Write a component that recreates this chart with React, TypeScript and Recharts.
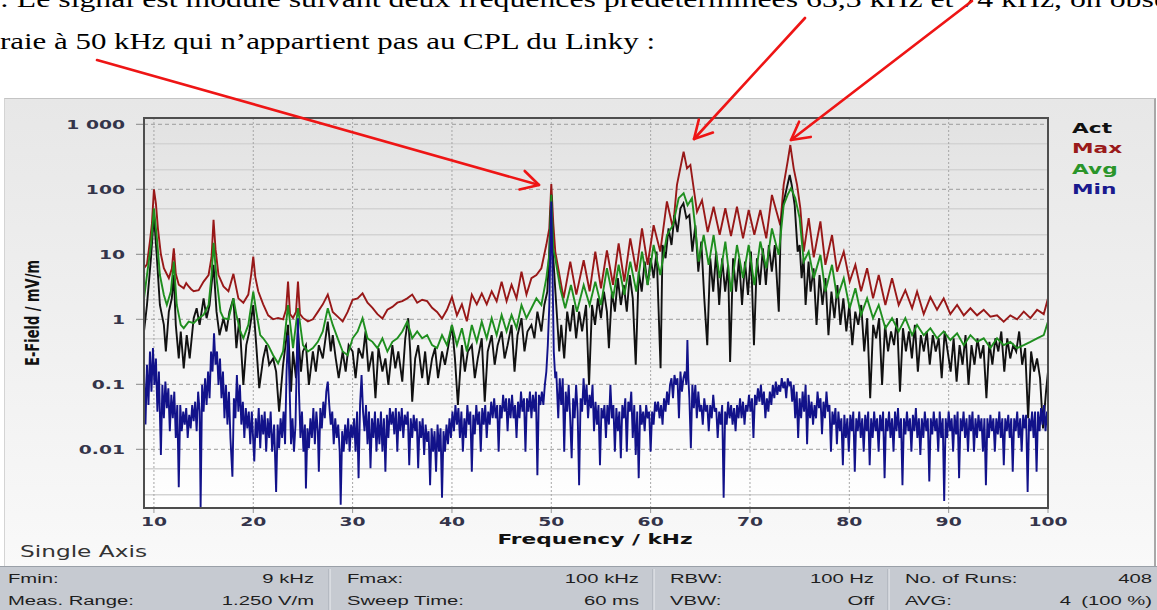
import { LineChart, Line, XAxis, YAxis, CartesianGrid } from 'recharts'

// frequency in kHz, field in mV/m
const FREQ_TICKS = [10, 20, 30, 40, 50, 60, 70, 80, 90, 100]
const FIELD_TICKS = [1000, 100, 10, 1, 0.1, 0.01]
const FIELD_LABELS = ['1 000', '100', '10', '1', '0.1', '0.01']
const FIELD_MINOR = [500, 200, 50, 20, 5, 2, 0.5, 0.2, 0.05, 0.02, 0.005, 0.002]

const MAX: [number, number][] = [
  [9, 6.1], [9.3, 7], [9.6, 16], [9.8, 30], [10, 100], [10.2, 60], [10.4, 25], [10.7, 10], [11, 6.1], [11.5, 4.3], [11.8, 6], [12, 12.4], [12.2, 5], [12.5, 3.4],
  [13, 3.0], [13.25, 3.6], [13.5, 3.2], [13.75, 2.9], [14, 2.7], [14.5, 2.8], [15, 3.8], [15.5, 4.8], [15.8, 9], [16, 34], [16.2, 12], [16.5, 4.8], [17, 3.2],
  [17.5, 2.7], [18, 5.0], [18.5, 2.1], [19, 1.8], [19.5, 2.4], [19.8, 5], [20, 9.2], [20.2, 4.5], [20.5, 2.7], [21, 1.7], [21.5, 1.15], [22, 1.0], [22.5, 1.05],
  [23, 1.0], [23.3, 1.4], [23.5, 3.8], [23.7, 1.2], [24, 1.05], [24.3, 1.3], [24.5, 3.8], [24.7, 1.2], [25, 1.05], [25.5, 0.93], [26, 1.0], [26.5, 1.3], [27, 1.7],
  [27.5, 2.4], [28, 1.3], [28.5, 1.1], [29, 0.93], [29.5, 1.3], [30, 2.0], [30.5, 2.1], [31, 2.5], [31.5, 1.8], [32, 1.5], [32.5, 1.2], [33, 1.03], [33.5, 1.4],
  [34, 1.55], [34.5, 1.8], [35, 1.9], [35.5, 2.1], [36, 2.4], [36.5, 1.8], [37, 2.0], [37.5, 1.9], [38, 1.5], [38.5, 1.3], [39, 1.03], [39.5, 1.4], [40, 2.2],
  [40.5, 1.15], [41, 1.7], [41.5, 0.93], [42, 2.4], [42.5, 1.7], [43, 2.5], [43.5, 1.7], [44, 2.7], [44.5, 1.9], [45, 3.8], [45.5, 1.9], [46, 3.4], [46.5, 2.1],
  [47, 5.4], [47.5, 2.4], [48, 4.3], [48.5, 4.8], [49, 6.1], [49.5, 14], [49.8, 25], [50, 120], [50.2, 30], [50.4, 11], [51.24, 2.1], [51.91, 7.7], [52.52, 2.4],
  [53.26, 8.1], [53.86, 2.7], [54.43, 11], [55.0, 3.0], [55.6, 11.5], [56.21, 3.4], [56.78, 14.7], [57.35, 3.8], [57.95, 17.6], [58.56, 5.4], [59.13, 25],
  [59.7, 6.9], [60.3, 28], [60.97, 11], [61.64, 65], [62.25, 25], [62.65, 117], [63.05, 237], [63.32, 380], [63.66, 210], [64.0, 237], [64.33, 104], [64.67, 45],
  [65.17, 68], [65.74, 22], [66.34, 54], [66.95, 20], [67.52, 51], [68.09, 19], [68.69, 54], [69.3, 17.6], [69.87, 48], [70.44, 20], [71.04, 48], [71.64, 17.6],
  [72.21, 82], [73.05, 28], [73.39, 117], [73.79, 267], [74.06, 480], [74.4, 210], [74.74, 117], [75.07, 51], [75.41, 11], [75.91, 36], [76.42, 9], [77.09, 32],
  [77.59, 6.9], [78.26, 19.8], [78.77, 5.4], [79.44, 11], [80.04, 3.8], [80.61, 6.9], [81.18, 2.7], [81.79, 6.1], [82.39, 2.1], [82.96, 4.8], [83.63, 1.66],
  [84.3, 4.3], [84.97, 1.66], [85.64, 2.8], [86.32, 1.48], [86.82, 2.67], [87.49, 1.2], [88.16, 2.2], [88.83, 1.4], [89.5, 2.1], [90.17, 1.2], [90.85, 1.66],
  [91.52, 1.15], [92.19, 1.48], [92.86, 1.15], [93.53, 1.4], [94.2, 1.1], [94.87, 1.15], [95.54, 0.92], [96.21, 1.15], [96.89, 1.0], [97.56, 1.31], [98.23, 1.04],
  [98.9, 1.4], [99.57, 1.2], [100, 2.1],
]

const AVG: [number, number][] = [
  [9, 2.1], [9.3, 4.8], [9.7, 13.9], [10, 51], [10.3, 17.6], [10.6, 4.8], [11, 2.37], [11.3, 1.66], [11.7, 2.67], [12, 7.7], [12.3, 1.66], [12.7, 0.82], [13, 0.73],
  [13.5, 0.92], [14, 0.87], [14.5, 1.04], [15, 1.17], [15.5, 1.66], [15.8, 4.8], [16, 15], [16.3, 4.3], [16.7, 1.31], [17, 1.04], [17.5, 1.0], [18, 2.1], [18.3, 1.17],
  [18.7, 0.65], [19, 0.51], [19.5, 0.82], [20, 2.67], [20.3, 1.31], [20.7, 0.57], [21, 0.51], [21.5, 0.4], [22, 0.28], [22.5, 0.21], [23, 0.32], [23.5, 1.66],
  [24, 0.36], [24.5, 1.48], [25, 0.4], [25.5, 0.32], [26, 0.36], [26.5, 0.45], [27, 0.65], [27.5, 1.48], [28, 0.82], [28.5, 0.51], [29, 0.32], [29.5, 0.28], [30, 0.51],
  [30.5, 0.65], [31, 1.04], [31.5, 0.51], [32, 0.45], [32.5, 0.36], [33, 0.51], [33.5, 0.32], [34, 0.45], [34.5, 0.51], [35, 0.65], [35.5, 0.92], [36, 0.51],
  [36.5, 0.65], [37, 0.51], [37.5, 0.57], [38, 0.4], [38.5, 0.36], [39, 0.57], [39.5, 0.4], [40, 0.82], [40.5, 0.4], [41, 0.73], [41.5, 0.32], [42, 0.82], [42.5, 0.45],
  [43, 0.92], [43.5, 0.51], [44, 1.04], [44.5, 0.57], [45, 1.17], [45.5, 0.65], [46, 1.17], [46.5, 0.73], [47, 1.66], [47.5, 1.04], [48, 1.48], [48.5, 2.1], [49, 1.66],
  [49.5, 4.3], [49.8, 10], [50, 82], [50.2, 12], [50.4, 8.7], [50.9, 3.0], [51.4, 1.48], [51.98, 3.37], [52.58, 1.31], [53.26, 3.37], [53.86, 1.66], [54.43, 3.8],
  [55.0, 1.66], [55.6, 6.1], [56.21, 2.1], [56.78, 6.9], [57.35, 2.37], [57.95, 7.7], [58.56, 2.67], [59.13, 11], [59.7, 3.37], [60.3, 13.9], [60.97, 4.8], [61.64, 19.8],
  [62.25, 28], [62.82, 73], [63.32, 87], [63.72, 57], [64.16, 73], [64.5, 25], [64.83, 7.7], [65.34, 19.8], [65.84, 6.9], [66.34, 19.8], [66.95, 4.3], [67.52, 15.7],
  [68.09, 2.67], [68.69, 13.9], [69.3, 4.3], [69.87, 13.9], [70.44, 3.37], [71.04, 15.7], [71.64, 6.1], [72.21, 25], [72.89, 9.8], [73.39, 57], [73.79, 82], [74.13, 104],
  [74.56, 73], [75.0, 36], [75.41, 7.7], [75.91, 11], [76.42, 4.3], [77.09, 9.8], [77.59, 2.67], [78.26, 6.9], [78.77, 2.1], [79.44, 4.3], [80.04, 1.48], [80.61, 3.0],
  [81.18, 1.17], [81.79, 2.1], [82.39, 1.04], [82.96, 1.66], [83.63, 0.73], [84.3, 1.04], [84.97, 0.65], [85.64, 1.04], [86.32, 0.57], [86.82, 0.82], [87.49, 0.57],
  [88.16, 0.73], [88.83, 0.51], [89.5, 0.65], [90.17, 0.48], [90.85, 0.61], [91.52, 0.4], [92.19, 0.57], [92.86, 0.45], [93.53, 0.51], [94.2, 0.36], [94.87, 0.51],
  [95.54, 0.4], [96.21, 0.45], [96.89, 0.36], [97.56, 0.4], [98.23, 0.45], [98.9, 0.51], [99.57, 0.57], [100, 0.92],
]

const ACT: [number, number][] = [
  [9.0, 0.65], [9.3, 1.66], [9.7, 8.7], [10.0, 40], [10.3, 8.7], [10.6, 1.66], [11.0, 0.82], [11.2, 0.32], [11.5, 1.31], [11.8, 2.1], [12.0, 4.8], [12.2, 0.82],
  [12.5, 0.25], [12.7, 0.65], [13.0, 0.176], [13.3, 0.57], [13.6, 0.25], [14.0, 1.04], [14.3, 1.48], [14.6, 0.82], [15.0, 2.1], [15.3, 1.04], [15.6, 1.66], [16.0, 6.9],
  [16.3, 1.31], [16.6, 0.57], [17.0, 1.04], [17.3, 0.65], [17.6, 1.31], [18.0, 2.1], [18.3, 0.36], [18.6, 1.04], [19.0, 0.098], [19.3, 0.4], [19.6, 0.65], [20.0, 1.66],
  [20.3, 0.4], [20.6, 0.087], [21.0, 0.25], [21.3, 0.4], [21.6, 0.2], [22.0, 0.25], [22.3, 0.157], [22.6, 0.038], [23.0, 0.2], [23.5, 0.82], [23.8, 0.077], [24.0, 0.32],
  [24.3, 0.124], [24.5, 0.65], [24.8, 0.157], [25.0, 0.32], [25.3, 0.4], [25.6, 0.098], [26.0, 0.32], [26.3, 0.157], [26.6, 0.4], [27.0, 0.25], [27.5, 0.92], [27.8, 0.32],
  [28.0, 0.57], [28.3, 0.25], [28.6, 0.124], [29.0, 0.32], [29.3, 0.157], [29.6, 0.4], [30.0, 0.32], [30.3, 0.124], [30.6, 0.36], [31.0, 0.25], [31.3, 0.65], [31.6, 0.157],
  [32.0, 0.32], [32.3, 0.061], [32.6, 0.36], [33.0, 0.157], [33.3, 0.25], [33.6, 0.098], [34.0, 0.4], [34.3, 0.176], [34.6, 0.32], [35.0, 0.11], [35.3, 0.51], [35.6, 1.04],
  [35.8, 0.32], [36.0, 0.054], [36.3, 0.25], [36.6, 0.4], [37.0, 0.124], [37.3, 0.32], [37.6, 0.098], [38.0, 0.25], [38.3, 0.36], [38.6, 0.124], [39.0, 0.32], [39.3, 0.2],
  [39.6, 0.36], [40.0, 0.82], [40.3, 0.25], [40.6, 0.048], [41.0, 0.4], [41.3, 0.157], [41.6, 0.32], [42.0, 0.4], [42.3, 0.124], [42.6, 0.25], [43.0, 0.51], [43.3, 0.054],
  [43.6, 0.32], [44.0, 0.57], [44.3, 0.2], [44.6, 0.4], [45.0, 0.65], [45.3, 0.25], [45.6, 0.4], [46.0, 0.82], [46.3, 0.157], [46.6, 0.57], [47.0, 1.04], [47.3, 0.32],
  [47.6, 0.65], [48.0, 0.82], [48.3, 0.51], [48.6, 1.31], [49.0, 0.65], [49.3, 1.66], [49.6, 2.67], [49.8, 11], [50.0, 82], [50.2, 8.7], [50.5, 1.66], [50.8, 0.32],
  [51.0, 0.82], [51.3, 0.25], [51.6, 1.31], [51.9, 0.65], [52.2, 1.66], [52.5, 0.51], [52.8, 1.31], [53.1, 0.65], [53.5, 1.66], [53.8, 0.098], [54.1, 1.66], [54.4, 0.82],
  [54.7, 2.1], [55.0, 1.04], [55.3, 2.67], [55.6, 1.31], [55.8, 0.36], [56.1, 2.67], [56.4, 1.31], [56.7, 4.3], [57.0, 1.66], [57.3, 3.37], [57.6, 1.31], [57.9, 4.8],
  [58.2, 2.1], [58.5, 0.2], [58.8, 5.4], [59.1, 2.67], [59.4, 7.7], [59.7, 3.37], [60.0, 8.7], [60.3, 4.3], [60.6, 11], [61.0, 0.176], [61.2, 13.9], [61.5, 8.7],
  [61.8, 25], [62.1, 13.9], [62.4, 40], [62.7, 22], [63.0, 51], [63.3, 61], [63.6, 36], [63.9, 40], [64.2, 11], [64.5, 28], [64.8, 5.4], [65.1, 15.7], [65.4, 2.1],
  [65.7, 0.4], [66.0, 8.7], [66.3, 2.67], [66.6, 11], [66.9, 1.66], [67.2, 8.7], [67.5, 2.67], [67.8, 6.9], [68.0, 0.22], [68.3, 8.7], [68.6, 2.67], [68.9, 8.7],
  [69.2, 1.66], [69.5, 7.7], [69.8, 2.37], [70.1, 11], [70.4, 0.4], [70.7, 8.7], [71.0, 3.37], [71.3, 12.4], [71.6, 3.37], [71.9, 13.9], [72.2, 5.4], [72.5, 13.9],
  [72.9, 1.31], [73.1, 28], [73.4, 65], [73.7, 104], [74.0, 166], [74.2, 117], [74.5, 57], [74.8, 11], [75.0, 13.9], [75.2, 4.3], [75.4, 8.7], [75.6, 1.66], [75.9, 7.7],
  [76.1, 2.67], [76.4, 6.1], [76.7, 0.82], [77.0, 4.8], [77.3, 1.66], [77.6, 4.3], [77.9, 0.57], [78.2, 2.67], [78.5, 1.04], [78.8, 3.37], [79.1, 0.82], [79.4, 2.1],
  [79.7, 0.65], [80.0, 1.66], [80.3, 0.4], [80.6, 1.31], [80.9, 0.82], [81.2, 1.66], [81.5, 0.32], [81.8, 1.04], [82.1, 0.061], [82.4, 0.82], [82.7, 0.51], [83.0, 1.04],
  [83.3, 0.098], [83.6, 0.82], [83.9, 0.32], [84.2, 0.65], [84.5, 0.4], [84.8, 1.04], [85.1, 0.077], [85.4, 0.73], [85.7, 0.32], [86.0, 0.65], [86.3, 0.25], [86.6, 0.82],
  [86.9, 0.157], [87.2, 0.57], [87.5, 0.32], [87.8, 0.65], [88.1, 0.2], [88.4, 0.57], [88.7, 0.32], [89.0, 0.51], [89.3, 0.124], [89.6, 0.65], [89.9, 0.32], [90.2, 0.157],
  [90.5, 0.51], [90.8, 0.11], [91.1, 0.4], [91.4, 0.2], [91.7, 0.57], [92.0, 0.098], [92.3, 0.4], [92.6, 0.2], [92.9, 0.51], [93.2, 0.25], [93.5, 0.4], [93.8, 0.061],
  [94.1, 0.45], [94.4, 0.2], [94.7, 0.51], [95.0, 0.32], [95.3, 0.65], [95.6, 0.157], [95.9, 0.51], [96.2, 0.25], [96.5, 0.4], [96.8, 0.32], [97.1, 0.65], [97.4, 0.2],
  [97.7, 0.36], [98.0, 0.03], [98.3, 0.32], [98.6, 0.157], [98.9, 0.25], [99.2, 0.124], [99.5, 0.021], [99.8, 0.077], [100, 0.157],
]

const MIN: [number, number][] = [
  [9.0, 0.157], [9.15, 0.024], [9.3, 0.2], [9.45, 0.048], [9.6, 0.32], [9.75, 0.077], [9.9, 0.36], [10.05, 0.098], [10.2, 0.25], [10.35, 0.038], [10.5, 0.157],
  [10.7, 0.0082], [10.85, 0.098], [11.0, 0.03], [11.15, 0.11], [11.3, 0.043], [11.45, 0.087], [11.6, 0.019], [11.75, 0.069], [11.9, 0.03], [12.05, 0.077], [12.2, 0.015],
  [12.35, 0.048], [12.5, 0.0026], [12.65, 0.048], [12.8, 0.019], [12.95, 0.038], [13.1, 0.024], [13.25, 0.043], [13.4, 0.015], [13.55, 0.034], [13.7, 0.021],
  [13.85, 0.048], [14.0, 0.027], [14.15, 0.054], [14.3, 0.019], [14.45, 0.077], [14.6, 0.038], [14.7, 0.0013], [14.85, 0.098], [15.0, 0.038], [15.15, 0.124],
  [15.3, 0.048], [15.45, 0.157], [15.6, 0.061], [15.75, 0.32], [15.9, 0.157], [16.05, 0.61], [16.2, 0.2], [16.35, 0.32], [16.5, 0.098], [16.65, 0.25], [16.8, 0.061],
  [16.95, 0.157], [17.1, 0.03], [17.25, 0.098], [17.4, 0.024], [17.55, 0.077], [17.7, 0.015], [17.9, 0.0038], [18.05, 0.061], [18.2, 0.03], [18.35, 0.139], [18.5, 0.038],
  [18.65, 0.098], [18.8, 0.024], [18.95, 0.054], [19.1, 0.015], [19.25, 0.043], [19.4, 0.021], [19.55, 0.038], [19.7, 0.012], [19.85, 0.038], [20.1, 0.0065], [20.25, 0.03],
  [20.4, 0.015], [20.55, 0.043], [20.7, 0.0104], [20.85, 0.034], [21.0, 0.017], [21.15, 0.038], [21.3, 0.0092], [21.45, 0.03], [21.6, 0.015], [21.75, 0.038], [21.9, 0.0092],
  [22.1, 0.024], [22.3, 0.0022], [22.45, 0.024], [22.6, 0.0104], [22.75, 0.03], [22.9, 0.015], [23.05, 0.038], [23.2, 0.012], [23.35, 0.157], [23.5, 0.57], [23.65, 0.098],
  [23.8, 0.012], [23.95, 0.03], [24.1, 0.0092], [24.25, 0.024], [24.4, 0.32], [24.5, 1.04], [24.6, 0.077], [24.75, 0.015], [24.9, 0.038], [25.05, 0.0092], [25.2, 0.024],
  [25.3, 0.0025], [25.45, 0.021], [25.6, 0.0104], [25.75, 0.03], [25.9, 0.015], [26.05, 0.043], [26.2, 0.012], [26.35, 0.038], [26.5, 0.019], [26.6, 0.0045], [26.75, 0.043],
  [26.9, 0.021], [27.05, 0.054], [27.2, 0.03], [27.35, 0.077], [27.5, 0.11], [27.65, 0.048], [27.8, 0.024], [27.95, 0.038], [28.1, 0.012], [28.25, 0.03], [28.4, 0.015],
  [28.55, 0.024], [28.7, 0.0092], [28.8, 0.0014], [28.95, 0.019], [29.1, 0.0092], [29.25, 0.024], [29.4, 0.012], [29.55, 0.03], [29.7, 0.0092], [29.85, 0.024], [30.0, 0.015],
  [30.15, 0.03], [30.3, 0.0092], [30.45, 0.038], [30.6, 0.0036], [30.75, 0.048], [30.9, 0.139], [31.05, 0.038], [31.2, 0.019], [31.35, 0.048], [31.5, 0.012], [31.65, 0.038],
  [31.8, 0.0051], [31.95, 0.03], [32.1, 0.015], [32.25, 0.038], [32.4, 0.0092], [32.55, 0.03], [32.7, 0.012], [32.85, 0.038], [33.0, 0.0092], [33.15, 0.03], [33.3, 0.0045],
  [33.45, 0.034], [33.6, 0.015], [33.75, 0.043], [33.9, 0.024], [34.05, 0.038], [34.2, 0.017], [34.35, 0.043], [34.5, 0.0092], [34.65, 0.038], [34.8, 0.019], [34.95, 0.043],
  [35.1, 0.015], [35.25, 0.034], [35.4, 0.024], [35.55, 0.038], [35.7, 0.0057], [35.85, 0.03], [36.0, 0.015], [36.15, 0.034], [36.3, 0.019], [36.45, 0.03], [36.6, 0.0051],
  [36.75, 0.027], [36.9, 0.015], [37.05, 0.03], [37.2, 0.0082], [37.35, 0.024], [37.5, 0.013], [37.65, 0.019], [37.8, 0.0028], [37.95, 0.021], [38.1, 0.0092], [38.25, 0.019],
  [38.4, 0.0045], [38.55, 0.024], [38.7, 0.0092], [38.85, 0.021], [39.0, 0.0018], [39.15, 0.019], [39.3, 0.0092], [39.45, 0.024], [39.6, 0.012], [39.75, 0.03], [39.9, 0.015],
  [40.05, 0.038], [40.2, 0.019], [40.35, 0.048], [40.5, 0.024], [40.65, 0.043], [40.8, 0.015], [40.95, 0.038], [41.1, 0.0092], [41.25, 0.03], [41.4, 0.015], [41.55, 0.048],
  [41.7, 0.024], [41.85, 0.038], [42.0, 0.0045], [42.15, 0.034], [42.3, 0.017], [42.45, 0.048], [42.6, 0.024], [42.75, 0.038], [42.9, 0.0092], [43.05, 0.043], [43.2, 0.024],
  [43.35, 0.048], [43.5, 0.015], [43.65, 0.038], [43.8, 0.024], [43.95, 0.054], [44.1, 0.03], [44.25, 0.061], [44.4, 0.03], [44.55, 0.048], [44.7, 0.0092], [44.85, 0.048],
  [45.0, 0.03], [45.15, 0.069], [45.3, 0.038], [45.45, 0.061], [45.6, 0.019], [45.75, 0.061], [45.9, 0.03], [46.05, 0.069], [46.2, 0.03], [46.35, 0.048], [46.5, 0.015],
  [46.65, 0.054], [46.8, 0.03], [46.95, 0.077], [47.1, 0.038], [47.25, 0.061], [47.4, 0.0092], [47.55, 0.061], [47.7, 0.038], [47.85, 0.077], [48.0, 0.03], [48.15, 0.069],
  [48.3, 0.038], [48.45, 0.077], [48.6, 0.004], [48.75, 0.069], [48.9, 0.048], [49.05, 0.077], [49.2, 0.048], [49.35, 0.098], [49.5, 0.157], [49.65, 0.4], [49.8, 1.66],
  [49.9, 11], [50.0, 65], [50.1, 8.7], [50.25, 0.32], [50.4, 0.124], [50.5, 0.157], [50.7, 0.03], [50.85, 0.124], [51.0, 0.048], [51.15, 0.124], [51.3, 0.0092],
  [51.45, 0.077], [51.6, 0.038], [51.75, 0.098], [51.9, 0.03], [52.05, 0.0073], [52.2, 0.061], [52.35, 0.03], [52.5, 0.098], [52.65, 0.038], [52.8, 0.0028], [52.95, 0.061],
  [53.1, 0.038], [53.25, 0.124], [53.4, 0.048], [53.55, 0.098], [53.7, 0.03], [53.85, 0.069], [54.0, 0.043], [54.15, 0.098], [54.3, 0.019], [54.45, 0.054], [54.6, 0.024],
  [54.75, 0.048], [54.9, 0.0057], [55.05, 0.043], [55.2, 0.03], [55.35, 0.048], [55.5, 0.015], [55.65, 0.048], [55.8, 0.024], [55.95, 0.098], [56.1, 0.03], [56.25, 0.048],
  [56.4, 0.0092], [56.55, 0.043], [56.7, 0.019], [56.85, 0.038], [57.0, 0.0073], [57.15, 0.048], [57.3, 0.03], [57.45, 0.061], [57.6, 0.0092], [57.75, 0.054], [57.9, 0.038],
  [58.05, 0.077], [58.2, 0.015], [58.35, 0.048], [58.5, 0.0082], [58.65, 0.038], [58.8, 0.0036], [58.95, 0.048], [59.1, 0.024], [59.25, 0.038], [59.4, 0.019], [59.55, 0.048],
  [59.7, 0.03], [59.85, 0.038], [60.0, 0.0092], [60.15, 0.038], [60.3, 0.024], [60.45, 0.054], [60.6, 0.038], [60.75, 0.054], [60.9, 0.03], [61.05, 0.048], [61.2, 0.024],
  [61.35, 0.061], [61.5, 0.038], [61.65, 0.077], [61.8, 0.048], [61.95, 0.098], [62.1, 0.124], [62.25, 0.061], [62.4, 0.139], [62.55, 0.098], [62.7, 0.124], [62.85, 0.03],
  [63.0, 0.157], [63.15, 0.077], [63.3, 0.124], [63.45, 0.157], [63.6, 0.098], [63.7, 0.48], [63.8, 0.124], [63.9, 0.061], [64.05, 0.0104], [64.2, 0.098], [64.35, 0.043],
  [64.5, 0.098], [64.65, 0.03], [64.8, 0.077], [64.95, 0.038], [65.1, 0.048], [65.25, 0.024], [65.4, 0.061], [65.55, 0.038], [65.7, 0.048], [65.85, 0.019], [66.0, 0.048],
  [66.15, 0.03], [66.3, 0.069], [66.45, 0.038], [66.6, 0.043], [66.75, 0.015], [66.9, 0.038], [67.05, 0.024], [67.2, 0.048], [67.35, 0.0018], [67.5, 0.038], [67.65, 0.024],
  [67.8, 0.054], [67.95, 0.03], [68.1, 0.048], [68.25, 0.024], [68.4, 0.043], [68.55, 0.019], [68.7, 0.048], [68.85, 0.03], [69.0, 0.061], [69.15, 0.03], [69.3, 0.054],
  [69.45, 0.024], [69.6, 0.048], [69.75, 0.038], [69.9, 0.069], [70.05, 0.038], [70.2, 0.061], [70.35, 0.015], [70.5, 0.069], [70.65, 0.048], [70.8, 0.087], [70.95, 0.054],
  [71.1, 0.098], [71.25, 0.048], [71.4, 0.077], [71.55, 0.03], [71.7, 0.061], [71.85, 0.038], [72.0, 0.077], [72.15, 0.048], [72.3, 0.098], [72.45, 0.061], [72.6, 0.11],
  [72.75, 0.069], [72.9, 0.098], [73.05, 0.077], [73.2, 0.124], [73.35, 0.087], [73.5, 0.11], [73.65, 0.061], [73.8, 0.124], [73.95, 0.098], [74.1, 0.11], [74.25, 0.054],
  [74.4, 0.098], [74.55, 0.03], [74.7, 0.077], [74.85, 0.015], [75.0, 0.061], [75.15, 0.03], [75.3, 0.077], [75.45, 0.038], [75.6, 0.098], [75.75, 0.012], [75.9, 0.069],
  [76.05, 0.03], [76.2, 0.054], [76.35, 0.024], [76.5, 0.048], [76.65, 0.03], [76.8, 0.077], [76.95, 0.043], [77.1, 0.061], [77.25, 0.017], [77.4, 0.054], [77.55, 0.03],
  [77.7, 0.077], [77.85, 0.038], [78.0, 0.048], [78.15, 0.0092], [78.3, 0.038], [78.45, 0.024], [78.6, 0.043], [78.75, 0.012], [78.9, 0.038], [79.05, 0.019], [79.2, 0.03],
  [79.35, 0.0057], [79.5, 0.034], [79.65, 0.015], [79.8, 0.03], [79.95, 0.0092], [80.1, 0.034], [80.25, 0.019], [80.4, 0.038], [80.55, 0.0045], [80.7, 0.03], [80.85, 0.019],
  [81.0, 0.038], [81.15, 0.015], [81.3, 0.03], [81.45, 0.0092], [81.6, 0.034], [81.75, 0.019], [81.9, 0.038], [82.05, 0.0057], [82.2, 0.03], [82.35, 0.015], [82.5, 0.038],
  [82.65, 0.019], [82.8, 0.03], [82.95, 0.0092], [83.1, 0.034], [83.25, 0.019], [83.4, 0.038], [83.55, 0.0036], [83.7, 0.03], [83.85, 0.019], [84.0, 0.038], [84.15, 0.015],
  [84.3, 0.03], [84.45, 0.0092], [84.6, 0.038], [84.75, 0.019], [84.9, 0.043], [85.05, 0.015], [85.2, 0.03], [85.35, 0.0028], [85.5, 0.03], [85.65, 0.017], [85.8, 0.038],
  [85.95, 0.019], [86.1, 0.03], [86.25, 0.0092], [86.4, 0.034], [86.55, 0.019], [86.7, 0.043], [86.85, 0.015], [87.0, 0.03], [87.15, 0.0082], [87.3, 0.03], [87.45, 0.015],
  [87.6, 0.038], [87.75, 0.019], [87.9, 0.03], [88.05, 0.0032], [88.2, 0.03], [88.35, 0.017], [88.5, 0.038], [88.65, 0.019], [88.8, 0.03], [88.95, 0.0092], [89.1, 0.038],
  [89.25, 0.015], [89.4, 0.03], [89.55, 0.0016], [89.7, 0.03], [89.85, 0.015], [90.0, 0.038], [90.15, 0.019], [90.3, 0.03], [90.45, 0.0092], [90.6, 0.034], [90.75, 0.017],
  [90.9, 0.038], [91.05, 0.0036], [91.2, 0.03], [91.35, 0.019], [91.5, 0.038], [91.65, 0.015], [91.8, 0.03], [91.95, 0.0092], [92.1, 0.034], [92.25, 0.019], [92.4, 0.038],
  [92.55, 0.0092], [92.7, 0.03], [92.85, 0.015], [93.0, 0.034], [93.15, 0.019], [93.3, 0.03], [93.45, 0.0092], [93.6, 0.03], [93.75, 0.0028], [93.9, 0.03], [94.05, 0.015],
  [94.2, 0.034], [94.35, 0.019], [94.5, 0.03], [94.65, 0.0092], [94.8, 0.03], [94.95, 0.017], [95.1, 0.038], [95.25, 0.015], [95.4, 0.03], [95.55, 0.0057], [95.7, 0.03],
  [95.85, 0.019], [96.0, 0.034], [96.15, 0.015], [96.3, 0.03], [96.45, 0.0045], [96.6, 0.03], [96.75, 0.019], [96.9, 0.038], [97.05, 0.015], [97.2, 0.03], [97.35, 0.0092],
  [97.5, 0.034], [97.65, 0.021], [97.8, 0.034], [97.95, 0.0022], [98.1, 0.03], [98.25, 0.019], [98.4, 0.038], [98.55, 0.015], [98.7, 0.038], [98.85, 0.0045], [99.0, 0.038],
  [99.15, 0.019], [99.3, 0.043], [99.45, 0.024], [99.6, 0.048], [99.75, 0.019], [99.9, 0.038], [100, 0.03],
]

const SERIES = [
  { name: 'Max', pts: MAX, color: '#981818' },
  { name: 'Act', pts: ACT, color: '#111111' },
  { name: 'Avg', pts: AVG, color: '#1f8f1f' },
  { name: 'Min', pts: MIN, color: '#12128a' },
]
const LEGEND = [
  { name: 'Act', color: '#111111' },
  { name: 'Max', color: '#9a1a1a' },
  { name: 'Avg', color: '#2a952a' },
  { name: 'Min', color: '#1a1a8e' },
]

const STATUS = [
  [['Fmin:', '9 kHz'], ['Fmax:', '100 kHz'], ['RBW:', '100 Hz'], ['No. of Runs:', '408']],
  [['Meas. Range:', '1.250 V/m'], ['Sweep Time:', '60 ms'], ['VBW:', 'Off'], ['AVG:', '(100 %)']],
]

const TEXT_LINE_1 = ': Le signal est modulé suivant deux fréquences prédéterminées 63,3 kHz et 74 kHz, on obse'
const TEXT_LINE_2 = 'raie à 50 kHz qui n’appartient pas au CPL du Linky :'

const SX = 1.5
const AXIS_FONT = 'DejaVu Sans'
const rows = (pts: [number, number][]) => pts.map(([f, v]) => ({ f, v }))

function Txt({ x, y, children, size, weight = 'normal', fill = '#222', anchor = 'start', sx = SX, family = AXIS_FONT, rotate }: any) {
  const tf = `translate(${x},${y}) scale(${sx},1)` + (rotate ? ` rotate(${rotate})` : '')
  return (
    <text transform={tf} fontSize={size} fontWeight={weight} fill={fill} textAnchor={anchor} fontFamily={family}>
      {children}
    </text>
  )
}

function YTick({ x, y, payload }: any) {
  const i = FIELD_TICKS.indexOf(payload.value)
  if (i < 0) return null
  return (
    <Txt x={x} y={y + 4.5} size={12.5} weight="bold" fill="#34344a" anchor="end">
      {FIELD_LABELS[i]}
    </Txt>
  )
}

function XTick({ x, y, payload }: any) {
  return (
    <Txt x={x} y={y + 10} size={12.5} weight="bold" fill="#34344a" anchor="middle">
      {payload.value}
    </Txt>
  )
}

function Arrow({ x1, y1, x2, y2 }: any) {
  const a = Math.atan2(y2 - y1, x2 - x1)
  const L = 20
  const p1 = [x2 - L * Math.cos(a - 0.5), y2 - L * Math.sin(a - 0.5)]
  const p2 = [x2 - L * Math.cos(a + 0.5), y2 - L * Math.sin(a + 0.5)]
  return (
    <g stroke="#ee1515" strokeWidth={2.6} fill="none" strokeLinecap="round" strokeLinejoin="round">
      <line x1={x1} y1={y1} x2={x2} y2={y2} />
      <polyline points={`${p1[0]},${p1[1]} ${x2},${y2} ${p2[0]},${p2[1]}`} />
    </g>
  )
}

const STATUS_COLS = [
  { lx: 8, rx: 314 },
  { lx: 347, rx: 639 },
  { lx: 670, rx: 874 },
  { lx: 905, rx: 1152 },
]

export default function App() {
  return (
    <div style={{ position: 'absolute', left: 0, top: 0, width: 1157, height: 610, overflow: 'hidden', background: '#fff' }}>
      {/* instrument panel */}
      <div
        style={{
          position: 'absolute', left: 4, top: 98, width: 1149, height: 468,
          background: 'linear-gradient(#e7e7e7, #f9f9f9)', borderTop: '1px solid #c4c4c4', borderLeft: '1px solid #d4d4d4', borderRight: '2px solid #a8a8a8',
        }}
      />
      {/* plot background */}
      <div style={{ position: 'absolute', left: 144, top: 118, width: 904, height: 390, background: 'linear-gradient(#e2e2e2, #ffffff)' }} />

      <div style={{ position: 'absolute', left: 0, top: 0 }}>
        <LineChart width={1157} height={566} margin={{ top: 118, right: 109, bottom: 18, left: 44 }}>
          <CartesianGrid vertical={false} horizontalValues={FIELD_MINOR} stroke="#d3d3d3" strokeWidth={1.5} />
          <CartesianGrid vertical={false} stroke="#9d9d9d" strokeDasharray="4 3" />
          <CartesianGrid horizontal={false} stroke="#a6a6a6" strokeDasharray="2 2" />
          <XAxis
            type="number" dataKey="f" domain={[9, 100]} ticks={FREQ_TICKS} interval={0} allowDataOverflow
            axisLine={false} tickLine={{ stroke: '#999' }} tickSize={5} tickMargin={3} height={40} tick={<XTick />}
          />
          <YAxis
            type="number" scale="log" domain={[0.00125, 1250]} ticks={FIELD_TICKS} interval={0} allowDataOverflow
            axisLine={false} tickLine={{ stroke: '#888' }} tickSize={8} tickMargin={11} width={100} tick={<YTick />}
          />
          {SERIES.map((s) => (
            <Line
              key={s.name} data={rows(s.pts)} dataKey="v" name={s.name} type="linear"
              stroke={s.color} strokeWidth={1.9} dot={false} activeDot={false} isAnimationActive={false}
            />
          ))}
        </LineChart>
      </div>

      {/* status bar */}
      <div style={{ position: 'absolute', left: 0, top: 566, width: 1157, height: 44, background: '#c6cad1', borderTop: '1px solid #9aa0a8' }} />

      <svg width={1157} height={610} style={{ position: 'absolute', left: 0, top: 0, pointerEvents: 'none' }}>
        {/* plot frame */}
        <rect x={144} y={118} width={904} height={390} fill="none" stroke="#4e4e4e" strokeWidth={2} />

        <Txt x={595} y={544} size={14} weight="bold" fill="#111" anchor="middle" sx={1.55}>Frequency / kHz</Txt>
        <Txt x={39} y={313} size={13} weight="bold" fill="#111" anchor="middle" rotate={-90}>E-Field / mV/m</Txt>
        <Txt x={20} y={557} size={15} fill="#333" sx={1.55}>Single Axis</Txt>

        {LEGEND.map((l, i) => (
          <Txt key={l.name} x={1072} y={133 + i * 20.3} size={14} weight="bold" fill={l.color} sx={1.55}>{l.name}</Txt>
        ))}

        {/* status bar texts */}
        {STATUS.map((row, r) =>
          row.map(([label, value], c) => (
            <g key={`${r}-${c}`}>
              <Txt x={STATUS_COLS[c].lx} y={583 + r * 22} size={13.5} family="Liberation Sans" fill="#1e1e1e">{label}</Txt>
              <Txt x={STATUS_COLS[c].rx} y={583 + r * 22} size={13.5} family="Liberation Sans" fill="#1e1e1e" anchor="end">{value}</Txt>
            </g>
          ))
        )}
        <Txt x={1071} y={605} size={13.5} family="Liberation Sans" fill="#1e1e1e" anchor="end">4</Txt>
        {[329, 653, 888].map((x) => (
          <g key={x}>
            <line x1={x} y1={569} x2={x} y2={610} stroke="#a4aab3" />
            <line x1={x + 1} y1={569} x2={x + 1} y2={610} stroke="#eceef2" />
          </g>
        ))}

        {/* surrounding document text */}
        <text x={0} y={7} fontFamily="Liberation Serif" fontSize={24} fill="#000" textLength={1168} lengthAdjust="spacingAndGlyphs">
          {TEXT_LINE_1}
        </text>
        <text x={0} y={49} fontFamily="Liberation Serif" fontSize={24} fill="#000" textLength={655} lengthAdjust="spacingAndGlyphs">
          {TEXT_LINE_2}
        </text>

        <Arrow x1={97} y1={60} x2={539} y2={185} />
        <Arrow x1={805} y1={18} x2={694} y2={139} />
        <Arrow x1={972} y1={1} x2={791} y2={140} />
      </svg>
    </div>
  )
}
